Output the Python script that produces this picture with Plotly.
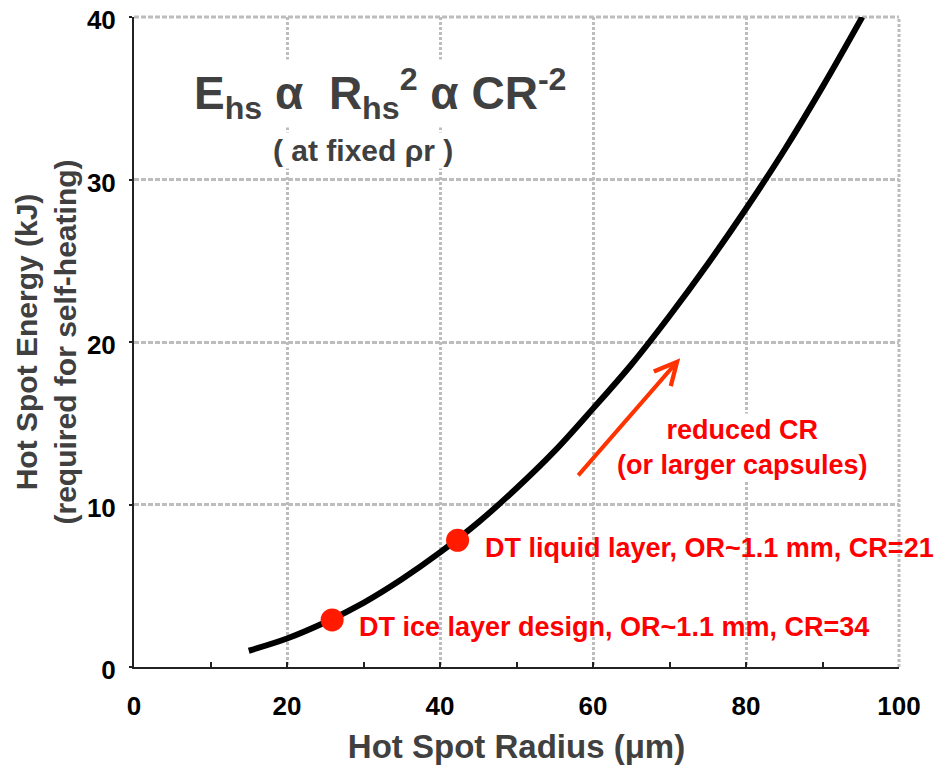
import plotly.graph_objects as go

# hot spot radius (um) vs hot spot energy (kJ)
radius = [15, 20, 25, 30, 35, 40, 45, 50, 55, 60, 65, 70, 75, 80, 85, 90, 95.2]
energy = [1.0, 1.75, 2.75, 3.95, 5.4, 7.05, 8.9, 11.0, 13.3, 15.9, 18.6, 21.6, 24.8, 28.2, 31.8, 35.7, 40.0]

# design points
design_r = [25.9, 42.3]
design_e = [2.9, 7.8]
design_labels = ["DT ice layer design, OR~1.1 mm, CR=34",
                 "DT liquid layer, OR~1.1 mm, CR=21"]

x_ticks = [0, 20, 40, 60, 80, 100]
y_ticks = [0, 10, 20, 30, 40]

FONT = "Arial, Liberation Sans, sans-serif"
RED = "#ff1a00"
GREY_TXT = "#404040"
GRID = "#bdbdbd"

fig = go.Figure()

fig.add_trace(go.Scatter(x=radius, y=energy, mode="lines",
                         line=dict(color="black", width=6, shape="spline"),
                         hoverinfo="skip"))

fig.add_trace(go.Scatter(x=design_r, y=design_e, mode="markers",
                         marker=dict(color=RED, size=23),
                         hoverinfo="skip"))

# labels next to the design points
for r, e, lab in zip(design_r, design_e, design_labels):
    fig.add_annotation(x=r + 3.3, y=e - 0.45, text="<b>%s</b>" % lab,
                       showarrow=False, xanchor="left", yanchor="middle",
                       font=dict(family=FONT, size=27, color="#ff0000"))

# scaling law title
fig.add_annotation(x=32.2, y=35.3,
                   text="<b>E<sub>hs</sub> α  R<sub>hs</sub><sup>2</sup> α CR<sup>-2</sup></b>",
                   showarrow=False, bgcolor="white",
                   font=dict(family=FONT, size=46, color=GREY_TXT))
fig.add_annotation(x=29.9, y=31.8, text="<b>( at fixed ρr )</b>",
                   showarrow=False, bgcolor="white",
                   font=dict(family=FONT, size=30, color=GREY_TXT))

# caption, then the arrow on top of it
fig.add_annotation(x=79.6, y=13.5,
                   text="<b>reduced CR<br>(or larger capsules)</b>",
                   showarrow=False, bgcolor="white",
                   font=dict(family=FONT, size=27, color="#ff0000"))
fig.add_annotation(x=71.4, y=19.0, ax=57.9, ay=11.7,
                   xref="x", yref="y", axref="x", ayref="y",
                   showarrow=True, arrowhead=5, arrowsize=1.1,
                   arrowwidth=4, arrowcolor="#ff3300", text="")

# dashed frame on the top and right edges (edge gridlines)
fig.add_shape(type="line", xref="x domain", yref="y domain", x0=0, x1=1, y0=1, y1=1,
              line=dict(color=GRID, width=3, dash="5px,2px"), layer="below")
fig.add_shape(type="line", xref="x domain", yref="y domain", x0=1, x1=1, y0=0, y1=1,
              line=dict(color=GRID, width=3, dash="3px,2px"), layer="below")

fig.update_xaxes(
    range=[0, 100], tickvals=x_ticks, automargin=False,
    showline=True, linecolor="#222", linewidth=2,
    ticks="inside", ticklen=5, tickwidth=2, tickcolor="#222",
    minor=dict(dtick=10, ticks="inside", ticklen=5, tickwidth=2, tickcolor="#222", showgrid=False),
    showgrid=True, gridcolor=GRID, gridwidth=3, griddash="3px,2px",
    zeroline=False,
    tickfont=dict(family=FONT, size=26, color="black", weight="bold"),
    ticklabelstandoff=15, ticklabeloverflow="allow",
    title=dict(text="<b>Hot Spot Radius (μm)</b>",
               font=dict(family=FONT, size=33, color=GREY_TXT), standoff=15),
)

fig.update_yaxes(
    range=[0, 40], tickvals=y_ticks, automargin=False,
    showline=True, linecolor="#222", linewidth=2,
    ticks="outside", ticklen=3, tickwidth=2, tickcolor="#222",
    showgrid=True, gridcolor=GRID, gridwidth=3, griddash="5px,2px",
    zeroline=False,
    tickfont=dict(family=FONT, size=26, color="black", weight="bold"),
    ticklabelstandoff=8, ticklabeloverflow="allow", ticklabelshift=3,
    title=dict(text="<b>Hot Spot Energy (kJ)<br>(required for self-heating)</b>",
               font=dict(family=FONT, size=30, color=GREY_TXT), standoff=1),
)

# the page body adds 8px on the left and top
fig.update_layout(
    width=947, height=768,
    margin=dict(l=126, r=56, t=9, b=109),
    plot_bgcolor="white", paper_bgcolor="white",
    showlegend=False,
)

fig.write_html("out.html")
